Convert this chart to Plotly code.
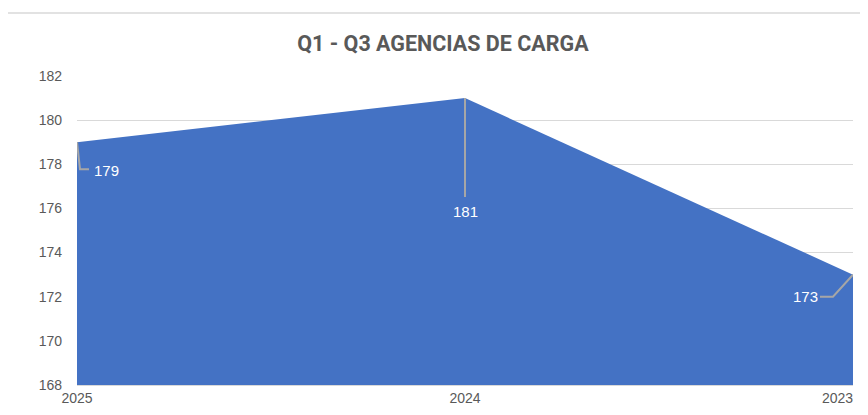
import plotly.graph_objects as go

# datos
years = ["2025", "2024", "2023"]
agencias = [179, 181, 173]
y_ticks = [168, 170, 172, 174, 176, 178, 180, 182]

AZUL = "#4472C4"
GRIS = "#595959"
GRID = "#D9D9D9"

pos = list(range(len(years)))

fig = go.Figure()

fig.add_trace(go.Scatter(
    x=pos,
    y=agencias,
    mode="lines",
    fill="tozeroy",
    fillcolor=AZUL,
    line=dict(color=AZUL, width=0),
    hoverinfo="y",
))

# lineas guia (en pixeles respecto al punto)
guias = [
    "M 0 0 L 3 -27 L 12 -27",
    "M 0 0 L 0 -99",
    "M 0 0 L -20 -22 L -33 -22",
]
for px_, val, path in zip(pos, agencias, guias):
    fig.add_shape(
        type="path", xref="x", yref="y",
        xsizemode="pixel", ysizemode="pixel",
        xanchor=px_, yanchor=val, path=path,
        line=dict(color="#A6A6A6", width=2),
    )

# etiquetas de datos
desplaz = [(29, -28), (0, -113), (-48, -22)]
for px_, val, (dx, dy) in zip(pos, agencias, desplaz):
    fig.add_annotation(
        x=px_, y=val, text=str(val), showarrow=False,
        xshift=dx, yshift=dy,
        font=dict(color="white", size=15, family="Liberation Sans"),
    )

# borde del grafico
fig.add_shape(
    type="rect", xref="paper", yref="paper",
    x0=-0.0902, x1=1.1, y0=-0.3, y1=1.2039,
    line=dict(color=GRID, width=1.5), layer="below",
)

# la ultima etiqueta del eje x va alineada a la derecha (como en Excel)
tick_txt = years[:-1] + [""]
fig.add_annotation(
    x=pos[-1], xref="x", y=0, yref="paper",
    text=years[-1], showarrow=False,
    xanchor="right", yanchor="top", yshift=-3, xshift=2,
    font=dict(family="Liberation Sans", size=14, color=GRIS),
)

fig.update_layout(
    width=868, height=415,
    margin=dict(l=69, r=23, t=68, b=38),
    paper_bgcolor="white",
    plot_bgcolor="white",
    showlegend=False,
    title=dict(
        text="<b>Q1 - Q3 AGENCIAS DE CARGA</b>",
        x=0.4716, xref="paper", y=0.9157, yref="container",
        xanchor="center", yanchor="middle",
        font=dict(family="Roboto", size=21.5, color=GRIS),
    ),
    xaxis=dict(
        range=[0, 2], tickvals=pos, ticktext=tick_txt,
        automargin=False,
        showgrid=False, zeroline=False,
        showline=True, linecolor=GRID, linewidth=1,
        ticks="", tickfont=dict(family="Liberation Sans", size=14, color=GRIS),
    ),
    yaxis=dict(
        range=[168, 182], tickvals=y_ticks,
        showgrid=True, gridcolor=GRID, gridwidth=1,
        zeroline=False, showline=False, ticks="",
        ticklabelstandoff=14,
        tickfont=dict(family="Liberation Sans", size=14, color=GRIS),
    ),
)

fig.write_html("out.html")
